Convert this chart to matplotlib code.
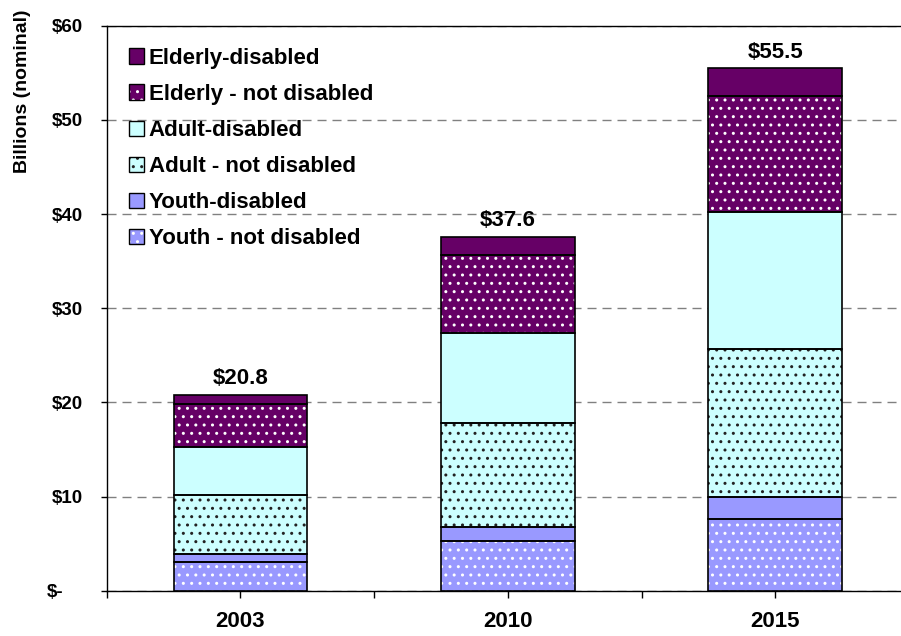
import matplotlib
matplotlib.use("Agg")
import matplotlib.pyplot as plt
import matplotlib.patches as mpatches
from matplotlib.legend_handler import HandlerTuple
from matplotlib.transforms import ScaledTranslation
import numpy as np

plt.rcParams['font.family'] = ['Liberation Sans', 'DejaVu Sans']
plt.rcParams['font.weight'] = 'bold'
plt.rcParams['hatch.linewidth'] = 1.0

# ---- data (billions of nominal dollars) ----
years = ['2003', '2010', '2015']
youth_not_disabled = [3.0, 5.25, 7.6]
youth_disabled = [0.9, 1.55, 2.35]
adult_not_disabled = [6.3, 11.0, 15.75]
adult_disabled = [5.1, 9.6, 14.5]
elderly_not_disabled = [4.5, 8.2, 12.3]
elderly_disabled = [1.0, 2.0, 3.0]

y_ticks = [0, 10, 20, 30, 40, 50, 60]
y_tick_labels = ['$-', '$10', '$20', '$30', '$40', '$50', '$60']

# segment styling, bottom to top
PURPLE, CYAN, BLUE = '#660066', '#CCFFFF', '#9999FF'
segments = [
    ('Youth - not disabled', youth_not_disabled, BLUE, '..', 'white'),
    ('Youth-disabled', youth_disabled, BLUE, None, None),
    ('Adult - not disabled', adult_not_disabled, CYAN, '..', '#222222'),
    ('Adult-disabled', adult_disabled, CYAN, None, None),
    ('Elderly - not disabled', elderly_not_disabled, PURPLE, '..', 'white'),
    ('Elderly-disabled', elderly_disabled, PURPLE, None, None),
]

fig = plt.figure(figsize=(9.01, 6.36), dpi=100)
ax = fig.add_axes([0.1184, 0.0712, 0.8905, 0.8884])

x = np.arange(len(years))
width = 0.5
bottom = np.zeros(len(years))
handles = []
for name, vals, fc, hatch, dotc in segments:
    vals = np.asarray(vals, dtype=float)
    if hatch:
        ax.bar(x, vals, width, bottom=bottom, color=fc, hatch=hatch,
               edgecolor=dotc, linewidth=0, zorder=2)
        fill_h = mpatches.Patch(facecolor=fc, hatch=hatch, edgecolor=dotc, linewidth=0)
    else:
        ax.bar(x, vals, width, bottom=bottom, color=fc, linewidth=0, zorder=2)
        fill_h = mpatches.Patch(facecolor=fc, linewidth=0)
    top_container = ax.bar(x, vals, width, bottom=bottom, fill=False,
                           edgecolor='black', linewidth=1.2, zorder=3)
    outline_h = mpatches.Patch(fill=False, edgecolor='black', linewidth=1.0)
    handles.append(((fill_h, outline_h), name))
    bottom = bottom + vals

totals = bottom
ax.bar_label(top_container, labels=[f'${t:.1f}' for t in totals],
             padding=4, fontsize=16, fontweight='bold')

# axes styling
ax.set_xlim(-0.5, 2.5)
ax.set_ylim(0, 60)
ax.set_xticks(x)
ax.set_xticklabels(years, fontsize=16)
ax.set_xticks([-0.5, 0.5, 1.5, 2.5], minor=True)
ax.set_yticks(y_ticks)
ax.set_yticklabels(y_tick_labels, fontsize=13.5)
ax.tick_params(axis='x', which='both', direction='out', length=5, width=1, pad=9.5)
ax.tick_params(axis='y', direction='out', length=4.5, width=1, pad=12.5)

zero_label = ax.get_yticklabels()[0]
zero_label.set_transform(zero_label.get_transform() +
                         ScaledTranslation(-0.2, 0, fig.dpi_scale_trans))

ax.set_axisbelow(True)
ax.yaxis.grid(True, color='#808080', linestyle=(0, (6.5, 4.3)), linewidth=1)
for side in ('left', 'bottom', 'top'):
    ax.spines[side].set_color('black')
    ax.spines[side].set_linewidth(1)
ax.spines['right'].set_visible(False)

fig.text(23 / 901, 1 - 91 / 636, 'Billions (nominal)', rotation=90,
         ha='center', va='center', fontsize=14, fontweight='bold')

leg_handles = [h for h, _ in handles][::-1]
leg_labels = [n for _, n in handles][::-1]
ax.legend(leg_handles, leg_labels, handler_map={tuple: HandlerTuple(ndivide=1)},
          loc='upper left', bbox_to_anchor=(0.0, 1.0), frameon=False,
          handlelength=0.7, handleheight=0.7, handletextpad=0.2,
          labelspacing=0.68, borderaxespad=0.6, borderpad=0.4,
          prop={'weight': 'bold', 'size': 16})

fig.savefig('out.png', dpi=100)
